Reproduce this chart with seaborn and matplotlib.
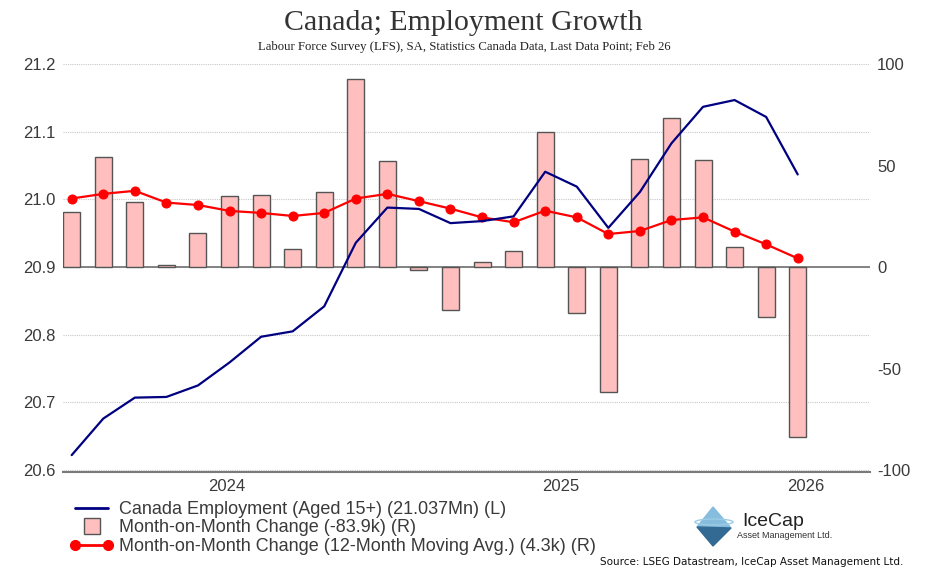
import numpy as np
import pandas as pd
import matplotlib
matplotlib.use("Agg")
import matplotlib.pyplot as plt
import seaborn as sns
from matplotlib.lines import Line2D
from matplotlib.patches import Polygon, Ellipse
from matplotlib.legend_handler import HandlerLine2D

# data (Mar 2024 .. Feb 2026)
months = pd.date_range("2024-03-01", "2026-02-01", freq="MS")
employment = [20.622, 20.676, 20.707, 20.708, 20.725, 20.759, 20.797, 20.805, 20.842, 20.936,
              20.988, 20.986, 20.965, 20.968, 20.975, 21.041, 21.019, 20.958, 21.011, 21.083,
              21.137, 21.147, 21.122, 21.037]
mom_change = [27.2, 54.4, 32.1, 0.8, 17.0, 35.1, 35.6, 8.9, 37.1, 92.6,
              52.4, -1.6, -21.2, 2.5, 7.9, 66.4, -22.6, -61.4, 53.4, 73.6,
              52.6, 10.0, -24.7, -83.9]
mom_ma12 = [33.8, 36.1, 37.6, 31.8, 30.6, 27.7, 26.7, 25.2, 26.7, 33.8,
            36.1, 32.5, 28.8, 24.5, 22.1, 27.8, 24.5, 16.3, 17.8, 23.2,
            24.5, 17.5, 11.2, 4.3]
left_ticks = [20.6, 20.7, 20.8, 20.9, 21.0, 21.1, 21.2]
right_ticks = [-100, -50, 0, 50, 100]
years = [2024, 2025, 2026]

legend_labels = ["Canada Employment (Aged 15+) (21.037Mn) (L)",
                 "Month-on-Month Change (-83.9k) (R)",
                 "Month-on-Month Change (12-Month Moving Avg.) (4.3k) (R)"]

df = pd.DataFrame({"month": months, "idx": np.arange(len(months)),
                   "emp": employment, "mom": mom_change, "ma": mom_ma12})

sns.set_style("white")
plt.rcParams["font.family"] = ["Liberation Sans", "DejaVu Sans"]
txt = "#3a3a3a"

fig = plt.figure(figsize=(9.29, 5.84), dpi=100)
ax = fig.add_axes([0.0675, 0.1913, 0.869, 0.6991])
ax2 = ax.twinx()

# right axis: bars + moving average
sns.barplot(data=df, x="idx", y="mom", ax=ax2, color="#FFBFBF", saturation=1,
            edgecolor="#555555", linewidth=1.0, width=0.54, errorbar=None, zorder=2)
sns.lineplot(data=df, x="idx", y="ma", ax=ax2, color="red", linewidth=1.6,
             marker="o", markersize=6.5, markeredgecolor="red", zorder=4)

# left axis: employment level
sns.lineplot(data=df, x="idx", y="emp", ax=ax, color="#000080", linewidth=1.6, zorder=3)

ylo, yhi = 20.5966, 21.2003
ax.set_ylim(ylo, yhi)
r_lo = (ylo - 20.9) / 0.3 * 100
r_hi = (yhi - 20.9) / 0.3 * 100
ax2.set_ylim(r_lo, r_hi)

# grid lines at left-axis levels, drawn behind the bars
for v in left_ticks:
    ax2.axhline((v - 20.9) / 0.3 * 100, color="#c8c8c8", lw=0.8, ls=(0, (1, 1)), zorder=0)
ax2.axhline(0, color="#7a7a7a", lw=1.3, zorder=1.5)

xlo, xhi = -0.285, 25.29
ax.set_xlim(xlo, xhi)

ax.set_zorder(2)
ax2.set_zorder(1)
ax.patch.set_visible(False)

for a in (ax, ax2):
    for s in a.spines.values():
        s.set_visible(False)
    a.set_xlabel("")
    a.set_ylabel("")
    a.grid(False)
ax.spines["bottom"].set_visible(True)
ax.spines["bottom"].set_color("#7a7a7a")
ax.spines["bottom"].set_linewidth(1.5)

ax.set_yticks(left_ticks)
ax.set_yticklabels([f"{v:.1f}" for v in left_ticks])
ax.tick_params(axis="y", length=0, pad=5, labelsize=12, labelcolor=txt)
ax2.set_yticks(right_ticks)
ax2.set_yticklabels([str(v) for v in right_ticks])
ax2.tick_params(axis="y", length=0, pad=5, labelsize=12, labelcolor=txt)

# year boundaries as major ticks, year names centred on each year's data span
bounds = [9.5, 21.5]
centers = [4.9, 15.5, 23.25]
ax.set_xticks(bounds)
ax.set_xticklabels([])
ax.set_xticks(centers, minor=True)
ax.set_xticklabels([str(y) for y in years], minor=True)
ax.tick_params(axis="x", which="major", length=4, width=1, color="#7a7a7a", direction="out")
ax.tick_params(axis="x", which="minor", length=0, pad=5, labelsize=12, labelcolor=txt)
ax.set_xlim(xlo, xhi)

# titles
fig.text(0.499, 0.96, "Canada; Employment Growth", ha="center", va="center",
         fontsize=21.5, family=["Liberation Serif"], color="#333333")
fig.text(0.5, 0.92, "Labour Force Survey (LFS), SA, Statistics Canada Data, Last Data Point; Feb 26",
         ha="center", va="center", fontsize=9.2, family=["Liberation Serif"], color="#222222")

# legend
h_emp = Line2D([], [], color="#000080", lw=2)
h_bar = Line2D([], [], ls="none", marker="s", markersize=11, markerfacecolor="#FFBFBF",
               markeredgecolor="#555555")
h_ma = Line2D([], [], color="red", lw=2, marker="o", markersize=7)
fig.legend([h_emp, h_bar, h_ma], legend_labels, loc="upper left",
           bbox_to_anchor=(70 / 929, 1 - 501 / 584), frameon=False, fontsize=13,
           handlelength=2.4, handletextpad=0.3, labelspacing=0.08, borderpad=0,
           borderaxespad=0, numpoints=2, labelcolor=txt,
           handler_map={h_bar: HandlerLine2D(numpoints=1)})

# logo
def fp(x, y):
    return (x / 929, 1 - y / 584)

fig.add_artist(Polygon([fp(713, 507), fp(731, 528), fp(697, 527)], closed=True,
                       transform=fig.transFigure, color="#86bcdc", zorder=5))
fig.add_artist(Polygon([fp(697, 527), fp(731, 528), fp(713, 546)], closed=True,
                       transform=fig.transFigure, color="#336a94", zorder=5))
fig.add_artist(Ellipse(fp(714, 522), 38 / 929, 6 / 584, transform=fig.transFigure,
                       fill=False, edgecolor="#9ccbe6", lw=1, zorder=6))
fig.text(742 / 929, 1 - 522 / 584, "IceCap", ha="left", va="center", fontsize=14, color="#222222")
fig.text(737 / 929, 1 - 536 / 584, "Asset Management Ltd.", ha="left", va="center",
         fontsize=6.5, color="#333333")

fig.text(903 / 929, 1 - 562 / 584, "Source: LSEG Datastream, IceCap Asset Management Ltd.",
         ha="right", va="center", fontsize=7.5, family=["DejaVu Sans"], color="#111111")

fig.savefig("out.png", dpi=100)
